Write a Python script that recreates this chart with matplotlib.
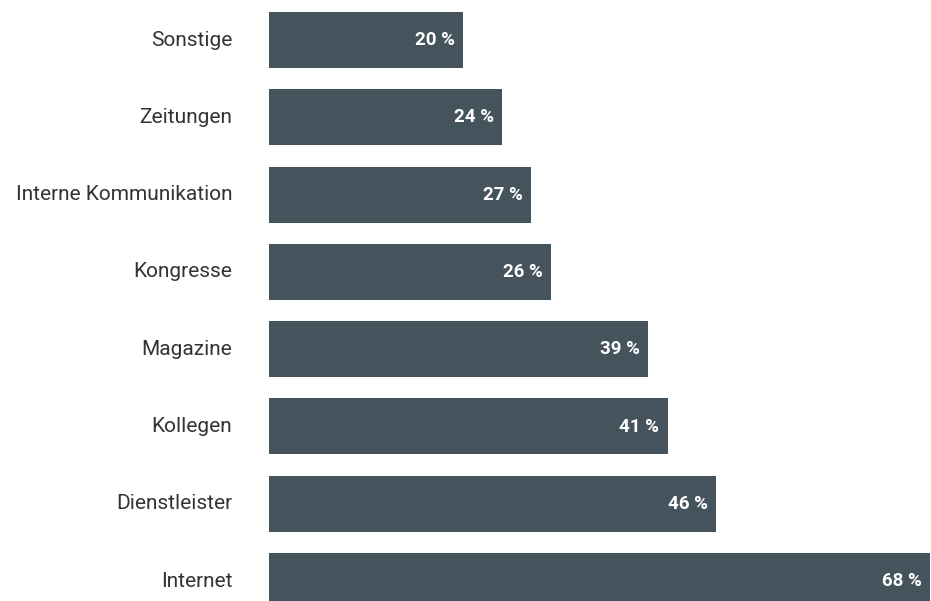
import matplotlib.pyplot as plt

categories = ["Sonstige", "Zeitungen", "Interne Kommunikation", "Kongresse",
              "Magazine", "Kollegen", "Dienstleister", "Internet"]
# bar lengths as drawn (Kongresse is drawn longer than its label says)
bar_values = [20, 24, 27, 29, 39, 41, 46, 68]
value_labels = ["20 %", "24 %", "27 %", "26 %", "39 %", "41 %", "46 %", "68 %"]

plt.rcParams['font.family'] = ['Roboto', 'DejaVu Sans']

fig = plt.figure(figsize=(9.31, 6.01), dpi=100)
ax = fig.add_axes([269 / 931, 0, 1 - 269 / 931, 1])

ypos = list(range(len(categories)))
bars = ax.barh(ypos, bar_values, height=56 / 77.3, color="#45535d")

ax.set_xlim(0, 68.1)
ax.set_ylim((601 - 40) / 77.3, -40 / 77.3)
ax.axis('off')

for y, v, lab, cat in zip(ypos, bar_values, value_labels, categories):
    ax.annotate(lab, (v, y), xytext=(-6, 0), textcoords="offset points",
                ha="right", va="center", color="white", fontsize=13.5,
                fontweight="bold")
    ax.annotate(cat, (0, y), xytext=(-26.5, 0), textcoords="offset points",
                ha="right", va="center", color="#333333", fontsize=15,
                annotation_clip=False)

fig.savefig("out.png", dpi=100)
